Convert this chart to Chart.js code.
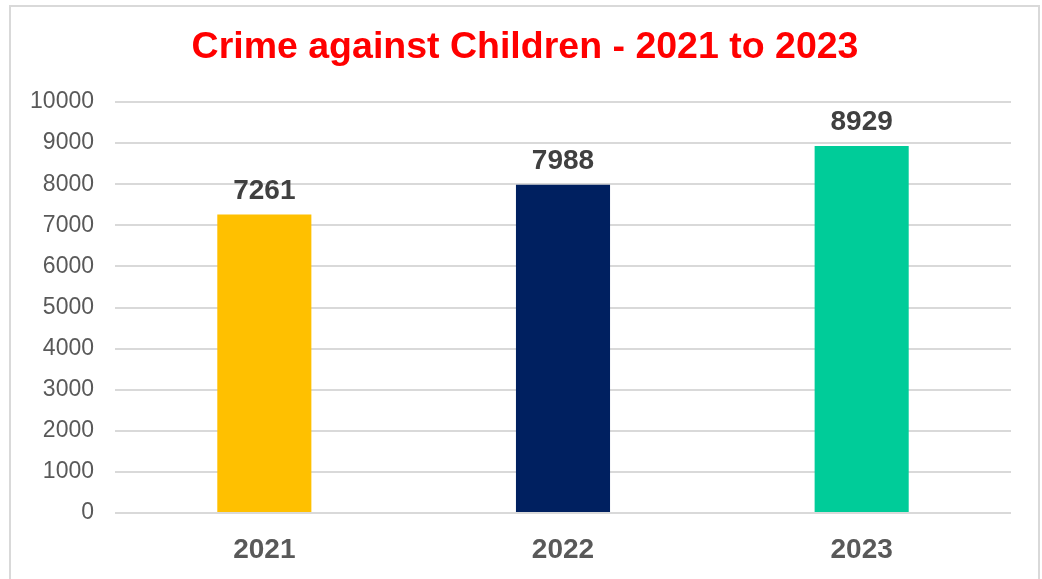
<!DOCTYPE html>
<html>
<head>
<meta charset="utf-8">
<script src="https://cdn.jsdelivr.net/npm/chart.js@4/dist/chart.umd.min.js"></script>
<style>
  html, body { margin: 0; padding: 0; background: #ffffff; overflow: hidden; }
  #wrap { position: relative; width: 1042px; height: 579px; }
  #frame { position: absolute; left: 9px; top: 5px; width: 1031px; height: 620px; box-sizing: border-box; border: 2px solid #d9d9d9; pointer-events: none; }
  canvas { position: absolute; left: 0; top: 0; }
</style>
</head>
<body>
<div id="wrap">
  <canvas id="c" width="1042" height="579"></canvas>
  <div id="frame"></div>
</div>
<script>
const categories = ['2021', '2022', '2023'];
const values = [7261, 7988, 8929];
const barColors = ['#FFC000', '#002060', '#00CC99'];
const chartTitle = 'Crime against Children - 2021 to 2023';

const FONT = '"Liberation Sans", Arial, sans-serif';

const valueLabels = {
  id: 'valueLabels',
  afterDatasetsDraw(chart) {
    const ctx = chart.ctx;
    const meta = chart.getDatasetMeta(0);
    ctx.save();
    ctx.font = 'bold 28px ' + FONT;
    ctx.fillStyle = '#404040';
    ctx.textAlign = 'center';
    ctx.textBaseline = 'alphabetic';
    meta.data.forEach((bar, i) => {
      ctx.fillText(String(values[i]), bar.x, bar.y - 16);
    });
    ctx.restore();
  }
};

const titleText = {
  id: 'titleText',
  afterDraw(chart) {
    const ctx = chart.ctx;
    ctx.save();
    ctx.font = 'bold 37.5px ' + FONT;
    ctx.fillStyle = '#FF0000';
    ctx.textAlign = 'center';
    ctx.textBaseline = 'alphabetic';
    ctx.fillText(chartTitle, 525, 58);
    ctx.restore();
  }
};

new Chart(document.getElementById('c'), {
  type: 'bar',
  data: {
    labels: categories,
    datasets: [{
      data: values,
      backgroundColor: barColors,
      borderWidth: 0,
      barPercentage: 1,
      categoryPercentage: 0.315
    }]
  },
  options: {
    responsive: false,
    animation: false,
    devicePixelRatio: 1,
    layout: { padding: { left: 10, right: 31, top: 102, bottom: 0 } },
    plugins: {
      legend: { display: false },
      tooltip: { enabled: false },
      title: { display: false }
    },
    scales: {
      y: {
        min: 0,
        max: 10000,
        ticks: {
          stepSize: 1000,
          color: '#595959',
          font: { family: FONT, size: 23 },
          padding: 21,
          callback: (v) => String(v)
        },
        grid: { color: '#d9d9d9', lineWidth: 2, drawTicks: false },
        border: { display: false },
        afterFit(scale) { scale.width = 105; }
      },
      x: {
        ticks: { color: '#595959', font: { family: FONT, size: 28, weight: 'bold' }, padding: 20 },
        grid: { display: false, drawTicks: false },
        border: { display: false },
        afterFit(scale) { scale.height = 66; }
      }
    }
  },
  plugins: [valueLabels, titleText]
});
</script>
</body>
</html>
